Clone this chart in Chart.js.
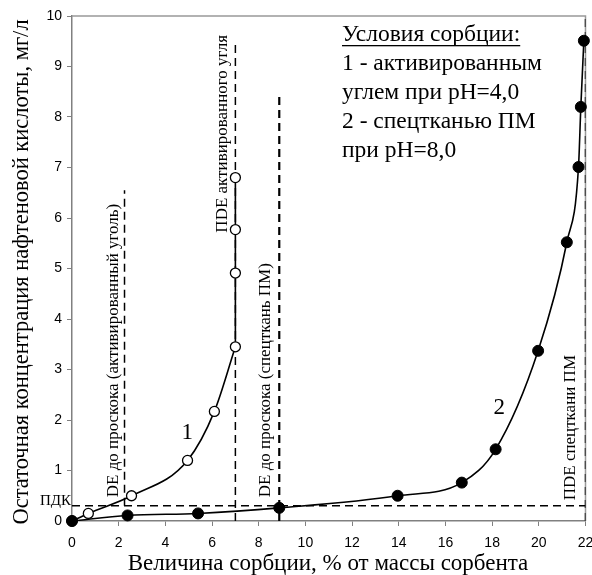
<!DOCTYPE html>
<html><head><meta charset="utf-8">
<script src="https://cdn.jsdelivr.net/npm/chart.js@4/dist/chart.umd.min.js"></script>
<style>html,body{margin:0;padding:0;background:#fff}canvas{display:block}</style>
</head><body>
<canvas id="c" width="592" height="575"></canvas>
<script>
// Data
const xTicks = [0, 2, 4, 6, 8, 10, 12, 14, 16, 18, 20, 22];
const yTicks = [0, 1, 2, 3, 4, 5, 6, 7, 8, 9, 10];
const series1X = [0, 0.7, 2.55, 4.95, 6.1, 7.0, 7.0, 7.0, 7.0];
const series1Y = [0, 0.15, 0.5, 1.2, 2.17, 3.45, 4.91, 5.77, 6.8];
const series2X = [0, 2.38, 5.4, 8.88, 13.95, 16.7, 18.15, 19.97, 21.2, 21.7, 21.8, 21.93];
const series2Y = [0, 0.11, 0.15, 0.26, 0.5, 0.76, 1.42, 3.37, 5.52, 7.01, 8.2, 9.51];
const pdkLevel = 0.3;
const vLineX = [2.25, 7.0, 8.88, 22];
const vLineBottom = [0.3, 0, 0, 0];
const vLineTop = [6.55, 9.45, 8.4, 10];
const xTitle = 'Величина сорбции, % от массы сорбента';
const yTitle = 'Остаточная концентрация нафтеновой кислоты, мг/л';
const legendLines = ['Условия сорбции:', '1 - активированным', 'углем при pH=4,0', '2 - спецтканью ПМ', 'при pH=8,0'];
const vLabels = ['DE до проскока (активированный уголь)', 'ПDE активированного угля', 'DE до проскока (спецткань ПМ)', 'ПDE спецткани ПМ'];

const pts = (xs, ys) => xs.map((x, i) => ({x, y: ys[i]}));
const breakIdx = series1X.indexOf(7.0);

const datasets = [];
// dashed ПДК line
datasets.push({order: 5, data: pts([0, 22], [pdkLevel, pdkLevel]), showLine: true, borderColor: '#000', borderWidth: 1.5, borderDash: [8, 5], pointRadius: 0, tension: 0});
vLineX.forEach((x, i) => {
  datasets.push({order: 5, data: pts([x, x], [vLineBottom[i], vLineTop[i]]), showLine: true, borderColor: '#000',
    borderWidth: i === 2 ? 2.2 : 1.5, borderDash: [8, 5], pointRadius: 0, tension: 0});
});
// series 1 curve (smooth) + vertical part
datasets.push({order: 4, data: pts(series1X.slice(0, breakIdx + 1), series1Y.slice(0, breakIdx + 1)), showLine: true, borderColor: '#000', borderWidth: 1.6, pointRadius: 0, cubicInterpolationMode: 'monotone'});
datasets.push({order: 4, data: pts(series1X.slice(breakIdx), series1Y.slice(breakIdx)), showLine: true, borderColor: '#000', borderWidth: 1.6, pointRadius: 0, tension: 0});
// series 2 curve
datasets.push({order: 4, data: pts(series2X, series2Y), showLine: true, borderColor: '#000', borderWidth: 1.6, pointRadius: 0, cubicInterpolationMode: 'monotone'});
// markers
datasets.push({order: 2, data: pts(series1X, series1Y), showLine: false, clip: false, pointRadius: 5, pointBackgroundColor: '#fff', pointBorderColor: '#000', pointBorderWidth: 1.3});
datasets.push({order: 1, data: pts(series2X, series2Y), showLine: false, clip: false, pointRadius: 5.5, pointBackgroundColor: '#000', pointBorderColor: '#000', pointBorderWidth: 1});

const serif = '"Liberation Serif", "Times New Roman", serif';

const textPlugin = {
  id: 'texts',
  beforeDatasetsDraw(chart) {
    const {ctx, chartArea: a} = chart;
    ctx.save();
    ctx.strokeStyle = '#999';
    ctx.lineWidth = 1.5;
    ctx.beginPath();
    ctx.moveTo(a.left, a.top); ctx.lineTo(a.right, a.top); ctx.lineTo(a.right, a.bottom);
    ctx.stroke();
    ctx.restore();
  },
  afterDatasetsDraw(chart) {
    const {ctx, scales: {x, y}} = chart;
    ctx.save();
    ctx.fillStyle = '#000';
    // axis titles
    ctx.textAlign = 'center'; ctx.textBaseline = 'middle';
    ctx.font = '23px ' + serif;
    ctx.fillText(xTitle, 328, 564);
    ctx.font = '22.5px ' + serif;
    ctx.save(); ctx.translate(22, 272); ctx.rotate(-Math.PI / 2);
    ctx.fillText(yTitle, 0, 0); ctx.restore();
    // legend
    ctx.textAlign = 'left';
    ctx.font = '23.5px ' + serif;
    const lx = 342, ly0 = 35, dy = 29;
    legendLines.forEach((t, i) => ctx.fillText(t, lx, ly0 + i * dy));
    const w = ctx.measureText(legendLines[0]).width;
    ctx.fillRect(lx, ly0 + 10, w, 1.3);
    // ПДК label
    ctx.font = '15px ' + serif;
    ctx.textAlign = 'right'; ctx.textBaseline = 'alphabetic';
    ctx.fillText('ПДК', 71, y.getPixelForValue(pdkLevel) - 1);
    // curve labels
    ctx.font = '23px ' + serif;
    ctx.textAlign = 'center'; ctx.textBaseline = 'middle';
    ctx.fillText('1', x.getPixelForValue(4.94), y.getPixelForValue(1.74));
    ctx.fillText('2', x.getPixelForValue(18.3), y.getPixelForValue(2.23));
    // vertical labels
    const vx = [1.77, 6.44, 8.31, 21.35];
    const vy = [0.47, 5.71, 0.47, 0.41];
    ctx.font = '17px ' + serif;
    ctx.textAlign = 'left'; ctx.textBaseline = 'middle';
    vLabels.forEach((t, i) => {
      ctx.save();
      ctx.translate(x.getPixelForValue(vx[i]), y.getPixelForValue(vy[i]));
      ctx.rotate(-Math.PI / 2);
      ctx.fillText(t, 0, 0);
      ctx.restore();
    });
    ctx.restore();
  }
};

new Chart(document.getElementById('c'), {
  type: 'scatter',
  data: {datasets},
  options: {
    responsive: false, animation: false, devicePixelRatio: 1,
    layout: {padding: {top: 16, right: 6, left: 0, bottom: 0}},
    plugins: {legend: {display: false}, tooltip: {enabled: false}},
    scales: {
      x: {type: 'linear', min: 0, max: 22,
        afterBuildTicks: s => { s.ticks = xTicks.map(v => ({value: v})); },
        afterFit: s => { s.height = 54; s.paddingRight = 0; s.paddingLeft = 0; },
        ticks: {color: '#000', padding: 9, font: {family: '"Liberation Sans", Arial, sans-serif', size: 14}},
        grid: {drawOnChartArea: false, drawTicks: true, tickLength: 5, color: '#808080'},
        border: {color: '#808080', width: 1.5}},
      y: {type: 'linear', min: 0, max: 10,
        afterBuildTicks: s => { s.ticks = yTicks.map(v => ({value: v})); },
        afterFit: s => { s.width = 72; s.paddingTop = 0; s.paddingBottom = 0; },
        ticks: {color: '#000', padding: 5, font: {family: '"Liberation Sans", Arial, sans-serif', size: 14}},
        grid: {drawOnChartArea: false, drawTicks: true, tickLength: 5, color: '#808080'},
        border: {color: '#808080', width: 1.5}}
    }
  },
  plugins: [textPlugin]
});
</script>
</body></html>
